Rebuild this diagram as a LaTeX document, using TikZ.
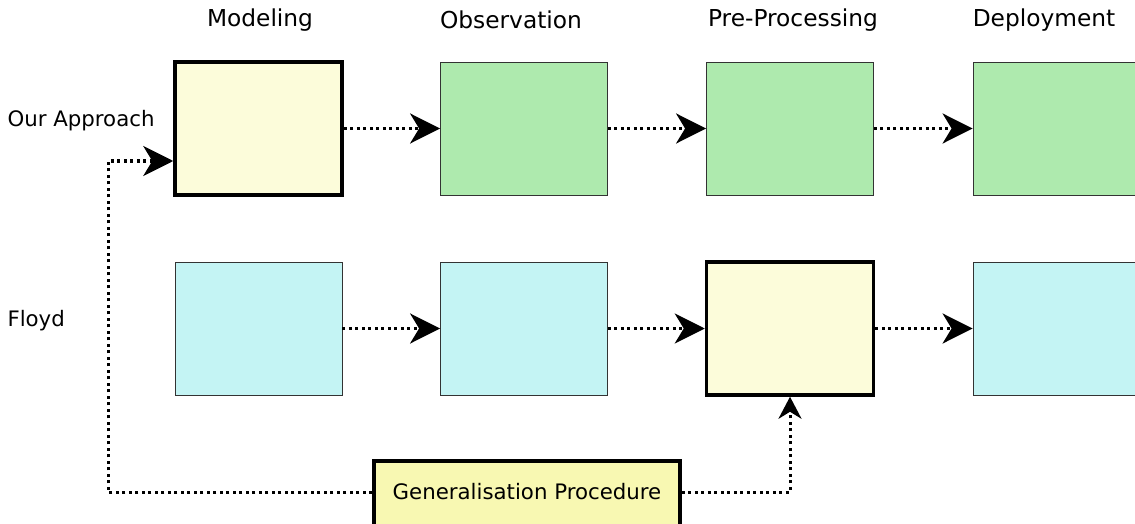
\documentclass[tikz,border=0pt]{standalone}
\usepackage{fontspec}
\setmainfont{DejaVu Sans}
\usetikzlibrary{arrows.meta}

\definecolor{hiyellow}{HTML}{FCFCDA}
\definecolor{genyellow}{HTML}{F8F8B2}
\definecolor{stepgreen}{HTML}{AEEAAE}
\definecolor{stepcyan}{HTML}{C4F4F4}

\tikzset{
	stage/.style={draw=black!80, line width=0.8pt, minimum width=167pt, minimum height=133pt, inner sep=0pt},
	marked/.style={stage, draw=black, line width=3.5pt, fill=hiyellow},
	flow/.style={line width=3pt, dash pattern=on 3pt off 3.5pt, -{Stealth[length=30pt,width=30pt,inset=9pt]}},
	backflow/.style={line width=3pt, dash pattern=on 3pt off 3.5pt, -{Stealth[length=22pt,width=23pt,inset=7pt]}},
	lbl/.style={font=\fontsize{21.3}{25}\selectfont},
	head/.style={font=\fontsize{23.3}{27}\selectfont}
}

\begin{document}
\begin{tikzpicture}[x=1pt, y=-1pt]
			\useasboundingbox (0,0) rectangle (1135,524);
			
			%%top row
			\node[marked] (m1) at (258.5,128.5) {};
			\node[stage, fill=stepgreen] (m2) at (524,128.5) {};
			\node[stage, fill=stepgreen] (m3) at (790,128.5) {};
			\node[stage, fill=stepgreen] (m4) at (1056.5,128.5) {};
			
			%%bottom row
			\node[stage, fill=stepcyan] (f1) at (258.5,328.5) {};
			\node[stage, fill=stepcyan] (f2) at (524,328.5) {};
			\node[marked] (f3) at (790,328.5) {};
			\node[stage, fill=stepcyan] (f4) at (1056.5,328.5) {};
			
			\node[draw, line width=3.5pt, fill=genyellow, minimum width=306pt, minimum height=70pt, inner sep=0pt] (gen) at (527,496) {};
			\node[lbl] (gentext) at (527,492) {Generalisation Procedure};
			
			%%arrows
			\foreach \a/\b in {m1/m2, m2/m3, m3/m4, f1/f2, f2/f3, f3/f4}
			{
				\draw[flow] (\a.east) -- (\b.west);
			}
			\coordinate (lcorner) at (108,492);
			\draw[flow] (gen.west |- gentext) -- (lcorner) |- ([yshift=-32.5pt]m1.west);
			\draw[backflow] (gen.east |- gentext) -| (f3.south);
			
			%%labels
			\foreach \x / \t in {260/Modeling, 511/Observation, 793/Pre-Processing, 1044/Deployment}
			{
				\node[head] at (\x,20) {\t};
			}
			\node[lbl, anchor=west] (ours) at (4,121) {Our Approach};
			\node[lbl, anchor=west] (floyd) at (4,321) {Floyd};
		\end{tikzpicture}
\end{document}
